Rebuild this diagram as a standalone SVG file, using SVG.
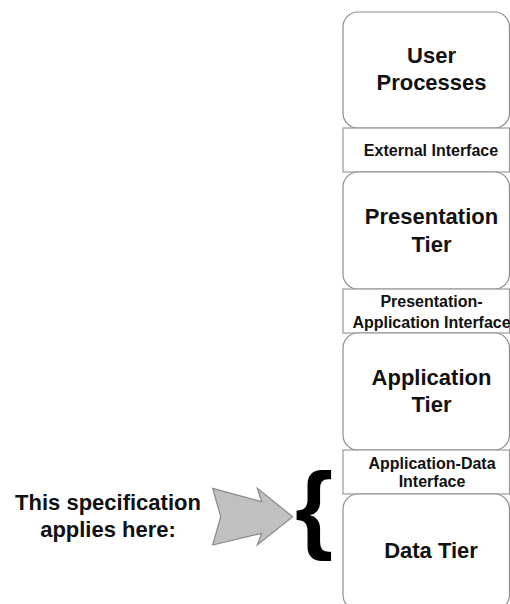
<svg xmlns="http://www.w3.org/2000/svg" width="510" height="604" viewBox="0 0 510 604">
  <style>
    .tier { fill: #ffffff; stroke: #8a8a8a; stroke-width: 1.2; }
    .iface { fill: #ffffff; stroke: #9a9a9a; stroke-width: 1.2; }
    .t { font-family: "Liberation Sans", Arial, sans-serif; font-weight: bold; fill: #111111; text-anchor: middle; }
    .big { font-size: 22px; }
    .small { font-size: 16px; }
  </style>
  <rect width="510" height="604" fill="#ffffff"/>

  <g id="user-processes">
    <rect class="tier" x="343" y="12" width="166.5" height="116" rx="15" ry="15"/>
    <text class="t big" x="431.5" y="63">User</text>
    <text class="t big" x="431.5" y="90">Processes</text>
  </g>

  <g id="external-interface">
    <rect class="iface" x="343" y="128" width="166.5" height="44"/>
    <text class="t small" x="431" y="156">External Interface</text>
  </g>

  <g id="presentation-tier">
    <rect class="tier" x="343" y="172" width="166.5" height="117" rx="15" ry="15"/>
    <text class="t big" x="431.5" y="224">Presentation</text>
    <text class="t big" x="431.5" y="252">Tier</text>
  </g>

  <g id="presentation-application-interface">
    <rect class="iface" x="343" y="289" width="166.5" height="44"/>
    <text class="t small" x="431.5" y="307">Presentation-</text>
    <text class="t small" x="431.5" y="328">Application Interface</text>
  </g>

  <g id="application-tier">
    <rect class="tier" x="343" y="333" width="166.5" height="117" rx="15" ry="15"/>
    <text class="t big" x="431.5" y="385">Application</text>
    <text class="t big" x="431.5" y="412">Tier</text>
  </g>

  <g id="application-data-interface">
    <rect class="iface" x="343" y="450" width="166.5" height="44"/>
    <text class="t small" x="432" y="469">Application-Data</text>
    <text class="t small" x="432" y="487">Interface</text>
  </g>

  <g id="data-tier">
    <rect class="tier" x="343" y="494" width="166.5" height="116" rx="15" ry="15"/>
    <text class="t big" x="431" y="558">Data Tier</text>
  </g>

  <g id="annotation">
    <text class="t big" x="108" y="510">This specification</text>
    <text class="t big" x="108" y="537">applies here:</text>
  </g>

  <g id="connectors">
    <polygon points="212.7,488.3 261.7,501.7 257.3,488.3 292.7,516.7 257.3,545 261.7,533.3 212.7,545 220.7,516.7" fill="#c0c0c0" stroke="#8a8a8a" stroke-width="1.2" stroke-linejoin="miter"/>
    <text x="295" y="541" font-family="Liberation Sans, Arial, sans-serif" font-weight="bold" font-size="98" fill="#000000">{</text>
  </g>
</svg>
